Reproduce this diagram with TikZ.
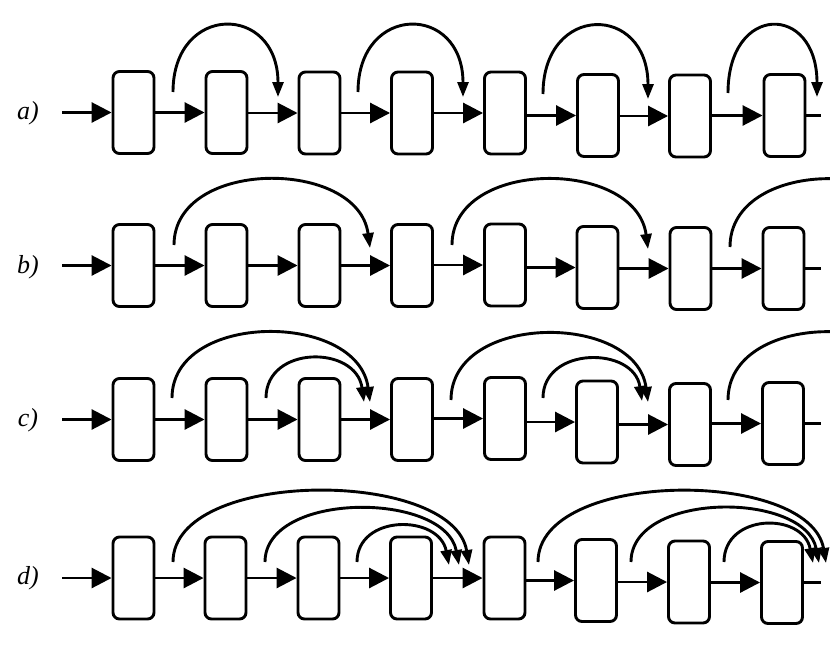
\documentclass[tikz,border=0pt]{standalone}
\usepackage{fontspec}
\setmainfont{Liberation Serif}
\usetikzlibrary{arrows.meta}
\tikzset{
  blk/.style={draw, line width=2.9pt, rounded corners=6.5pt, minimum width=41pt,
    minimum height=82pt, inner sep=0pt, fill=white},
  link/.style={line width=2.9pt, -{Triangle[length=20pt,width=20pt]}},
  tail/.style={line width=2.9pt},
  skip/.style={line width=2.9pt, -{Triangle[length=15pt,width=11pt]}},
  lbl/.style={font=\itshape\fontsize{26}{30}\selectfont, inner sep=0pt},
}
\begin{document}
\begin{tikzpicture}[x=1pt,y=-1pt]
\useasboundingbox (0,0) rectangle (830,651);
\clip (0,0) rectangle (830,651);

% ---------- row a ----------
\node[lbl] (la) at (28,113) {a)};
\foreach \i/\x/\y in {1/133.5/112.5, 2/226.5/112.5, 3/319.5/113, 4/412/113,
  5/505/113, 6/598/115.5, 7/690/116, 8/784.5/115.5}
  \node[blk] (a\i) at (\x,\y) {};
\coordinate (a0) at (62,112.5);
\coordinate (aend) at (821,115.5);
\draw[link] (a0) -- (a1.west);
\foreach \i [evaluate=\i as \j using int(\i+1)] in {1,...,7}
  \draw[link] (a\i.east |- a\j.west) -- (a\j.west);
\draw[tail] (a8.east) -- (aend);
\coordinate (as1) at (173,92);  \coordinate (ae1) at (278,97);
\coordinate (as2) at (358,92);  \coordinate (ae2) at (463,97);
\coordinate (as3) at (543,94);  \coordinate (ae3) at (648,99);
\coordinate (as4) at (728,93);  \coordinate (ae4) at (817,97);
\draw[skip] (as1) .. controls +(0,-89) and +(0,-94) .. (ae1);
\draw[skip] (as2) .. controls +(0,-89) and +(0,-94) .. (ae2);
\draw[skip] (as3) .. controls +(0,-91) and +(0,-96) .. (ae3);
\draw[skip] (as4) .. controls +(0,-90) and +(0,-94) .. (ae4);

% ---------- row b ----------
\node[lbl] (lb) at (28,267) {b)};
\foreach \i/\x/\y in {1/133.5/265.5, 2/226.5/265.5, 3/319.5/265.5, 4/412/265.5,
  5/505/265, 6/597.5/267.5, 7/690.5/268.5, 8/783.5/268.5}
  \node[blk] (b\i) at (\x,\y) {};
\coordinate (b0) at (62,265.5);
\coordinate (bend) at (821,268.5);
\draw[link] (b0) -- (b1.west);
\foreach \i [evaluate=\i as \j using int(\i+1)] in {1,...,7}
  \draw[link] (b\i.east |- b\j.west) -- (b\j.west);
\draw[tail] (b8.east) -- (bend);
\coordinate (bs1) at (174,245);  \coordinate (be1) at (370,248);
\coordinate (bs2) at (452,245);  \coordinate (be2) at (648,249);
\coordinate (bs3) at (730,247);  \coordinate (be3) at (926,249);
\draw[skip] (bs1) .. controls +(0,-87) and +(-12,-90) .. (be1);
\draw[skip] (bs2) .. controls +(0,-87) and +(-12,-91) .. (be2);
\draw[skip] (bs3) .. controls +(0,-89) and +(-12,-91) .. (be3);

% ---------- row c ----------
\node[lbl] (lc) at (28,420) {c)};
\foreach \i/\x/\y in {1/133.5/419.5, 2/226.5/419.5, 3/319.5/419.5, 4/412/419.5,
  5/505/418.5, 6/597/422, 7/690/424.5, 8/783/423.5}
  \node[blk] (c\i) at (\x,\y) {};
\coordinate (c0) at (62,419.5);
\coordinate (cend) at (821,423.5);
\draw[link] (c0) -- (c1.west);
\foreach \i [evaluate=\i as \j using int(\i+1)] in {1,...,7}
  \draw[link] (c\i.east |- c\j.west) -- (c\j.west);
\draw[tail] (c8.east) -- (cend);
\coordinate (cs1) at (172,398);  \coordinate (ce1) at (370,402);
\coordinate (cs2) at (266,398);  \coordinate (ce2) at (364,402);
\coordinate (cs3) at (451,400);  \coordinate (ce3) at (648,402);
\coordinate (cs4) at (543,398);  \coordinate (ce4) at (642,401);
\coordinate (cs5) at (728,400);  \coordinate (ce5) at (926,402);
\draw[skip] (cs1) .. controls +(0,-87) and +(-12,-91) .. (ce1);
\draw[skip] (cs2) .. controls +(0,-53) and +(-8,-57) .. (ce2);
\draw[skip] (cs3) .. controls +(0,-88) and +(-12,-90) .. (ce3);
\draw[skip] (cs4) .. controls +(0,-52) and +(-8,-55) .. (ce4);
\draw[skip] (cs5) .. controls +(0,-89) and +(-12,-91) .. (ce5);

% ---------- row d ----------
\node[lbl] (ld) at (28,578) {d)};
\foreach \i/\x/\y in {1/133.5/578, 2/225.5/578, 3/318.5/578, 4/411/578,
  5/504.5/578, 6/596/580.5, 7/689/582, 8/782/582.5}
  \node[blk] (d\i) at (\x,\y) {};
\coordinate (d0) at (62,578);
\coordinate (dend) at (821,582.5);
\draw[link] (d0) -- (d1.west);
\foreach \i [evaluate=\i as \j using int(\i+1)] in {1,...,7}
  \draw[link] (d\i.east |- d\j.west) -- (d\j.west);
\draw[tail] (d8.east) -- (dend);
\coordinate (ds1) at (173,562);  \coordinate (de1) at (469,565);
\coordinate (ds2) at (265,562);  \coordinate (de2) at (459,565);
\coordinate (ds3) at (357,562);  \coordinate (de3) at (449,565);
\coordinate (ds4) at (538,562);  \coordinate (de4) at (826,563);
\coordinate (ds5) at (631,562);  \coordinate (de5) at (819,563);
\coordinate (ds6) at (724,562);  \coordinate (de6) at (813,563);
\draw[skip] (ds1) .. controls +(0,-94) and +(-16,-97) .. (de1);
\draw[skip] (ds2) .. controls +(0,-71) and +(-14,-74) .. (de2);
\draw[skip] (ds3) .. controls +(0,-48) and +(-10,-51) .. (de3);
\draw[skip] (ds4) .. controls +(0,-93) and +(-16,-95) .. (de4);
\draw[skip] (ds5) .. controls +(0,-71) and +(-14,-72) .. (de5);
\draw[skip] (ds6) .. controls +(0,-49) and +(-10,-51) .. (de6);
\end{tikzpicture}
\end{document}
